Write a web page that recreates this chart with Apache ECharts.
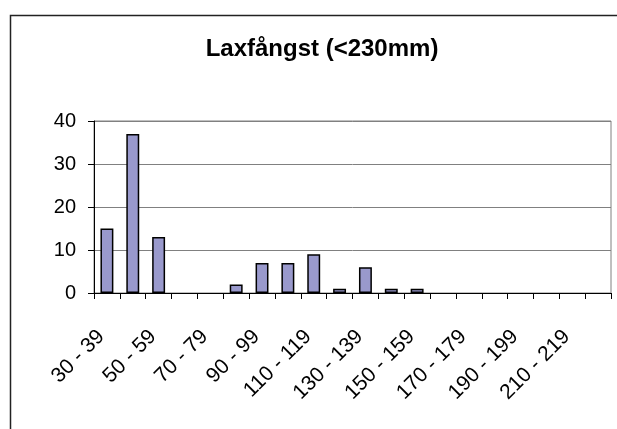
<!DOCTYPE html>
<html>
<head>
<meta charset="utf-8">
<script src="https://cdn.jsdelivr.net/npm/echarts@6/dist/echarts.min.js"></script>
<style>
html,body{margin:0;padding:0;background:#fff;}
#chart{width:617px;height:429px;}
</style>
</head>
<body>
<div id="chart"></div>
<script>
var titleText = 'Laxfångst (<230mm)';
var categories = ['30 - 39','40 - 49','50 - 59','60 - 69','70 - 79','80 - 89','90 - 99','100 - 109','110 - 119','120 - 129','130 - 139','140 - 149','150 - 159','160 - 169','170 - 179','180 - 189','190 - 199','200 - 209','210 - 219','220 - 229'];
var counts = [15, 37, 13, 0, 0, 2, 7, 7, 9, 1, 6, 1, 1, 0, 0, 0, 0, 0, 0, 0];
var yMin = 0, yMax = 40, yStep = 10;

var barData = counts.map(function (v) {
  return v === 0 ? {value: v, itemStyle: {borderWidth: 0}} : v;
});

var chart = echarts.init(document.getElementById('chart'), null, {renderer: 'canvas'});
var font = 'Liberation Sans, Arial, sans-serif';
chart.setOption({
  animation: false,
  backgroundColor: '#fff',
  graphic: [{
    type: 'rect', left: 8, top: 13,
    shape: {width: 640, height: 450},
    style: {fill: 'none', stroke: '#222', lineWidth: 1.5},
    silent: true
  }],
  title: {
    text: titleText,
    left: 317,
    textAlign: 'center',
    top: 32,
    textStyle: {fontFamily: font, fontSize: 24, fontWeight: 'bold', color: '#000'}
  },
  grid: {
    left: 94, right: 6, top: 121, bottom: 136,
    show: true, borderColor: '#808080', borderWidth: 1, backgroundColor: 'transparent'
  },
  xAxis: {
    type: 'category',
    data: categories,
    boundaryGap: true,
    axisLine: {lineStyle: {color: '#000', width: 1}},
    axisTick: {show: true, interval: 0, length: 6, lineStyle: {color: '#000'}},
    axisLabel: {
      interval: function (index) { return index % 2 === 0; },
      rotate: 45, margin: 46,
      showMinLabel: true,
      hideOverlap: false,
      align: 'right', verticalAlign: 'bottom', lineHeight: 16,
      color: '#000', fontFamily: font, fontSize: 21
    },
    splitLine: {show: false}
  },
  yAxis: {
    type: 'value',
    min: yMin, max: yMax, interval: yStep,
    axisLine: {show: true, lineStyle: {color: '#000', width: 1}},
    axisTick: {show: true, length: 6, lineStyle: {color: '#000'}},
    axisLabel: {margin: 18, color: '#000', fontFamily: font, fontSize: 20},
    splitLine: {show: true, lineStyle: {color: '#808080', width: 1}}
  },
  series: [{
    type: 'bar',
    data: barData,
    barWidth: '50%',
    itemStyle: {color: '#9999cc', borderColor: '#000', borderWidth: 1.5}
  }]
});
</script>
</body>
</html>
